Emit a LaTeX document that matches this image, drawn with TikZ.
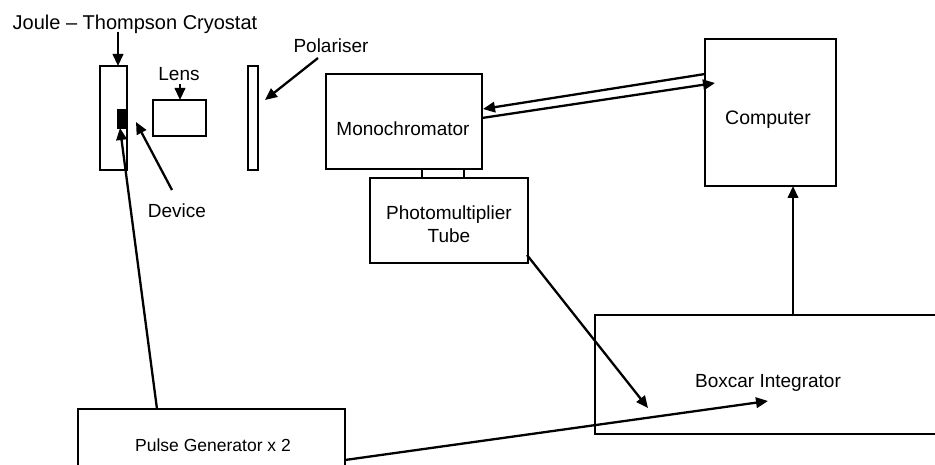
\documentclass[tikz,border=0pt]{standalone}
\usepackage{fontspec}
\setmainfont{Liberation Sans}
\usetikzlibrary{arrows.meta}
\begin{document}
\begin{tikzpicture}[x=1pt,y=-1pt,
  box/.style={draw, line width=1.3pt, inner sep=0pt, outer sep=0pt},
  lbl/.style={inner sep=0pt, outer sep=0pt, font=\fontsize{19}{22}\selectfont, anchor=base},
  arr/.style={line width=2.3pt, -{Triangle[length=12pt,width=10.5pt]}}]
\useasboundingbox (0,0) rectangle (935,465);
\clip (0,0) rectangle (935,465);
% boxes
\node[box, minimum width=27pt, minimum height=104pt] (cryo) at (113.5,118) {};
\node[box, fill=black, minimum width=9pt, minimum height=19pt] (device) at (122.5,119) {};
\node[box, minimum width=53pt, minimum height=36pt] (lens) at (179.5,118) {};
\node[box, minimum width=10pt, minimum height=104pt] (pol) at (253,118) {};
\node[box, minimum width=156pt, minimum height=95pt] (mono) at (404,121.5) {};
\node[box, minimum width=158pt, minimum height=85pt] (pmt) at (449,220.5) {};
\node[box, minimum width=131pt, minimum height=147pt] (comp) at (770.5,112.5) {};
\node[box, minimum width=360pt, minimum height=119pt] (boxcar) at (775,374.5) {};
\node[box, minimum width=267pt, minimum height=75pt] (pulse) at (211.5,446.5) {};
% labels
\node[lbl, font=\fontsize{20}{23}\selectfont] (cryoL) at (135,30) {Joule \textendash{} Thompson Cryostat};
\node[lbl] (lensL) at (179,81) {Lens};
\node[lbl] (devL) at (177,218) {Device};
\node[lbl] (polL) at (331,53) {Polariser};
\node[lbl] (monoL) at (403,136) {Monochromator};
\node[lbl] (pmtL1) at (449,220) {Photomultiplier};
\node[lbl] (pmtL2) at (449,243) {Tube};
\node[lbl, font=\fontsize{19.5}{22}\selectfont] (compL) at (768,125) {Computer};
\node[lbl] (boxL) at (768,387) {Boxcar Integrator};
\node[lbl, font=\fontsize{17.5}{20}\selectfont] (pulseL) at (213,451) {Pulse Generator x 2};
% coordinates for connector ends
\coordinate (cryoT) at (118,32);
\coordinate (cryoH) at (118,66);
\coordinate (lensT) at (180,84);
\coordinate (lensH) at (180,100);
\coordinate (polT) at (318,58);
\coordinate (polH) at (265,100);
\coordinate (devT) at (172,190);
\coordinate (devH) at (136,122);
\coordinate (pulseA) at (157,409);
\coordinate (devB) at (120,128);
\coordinate (m1a) at (422,169);
\coordinate (m1b) at (422,178);
\coordinate (m2a) at (464,169);
\coordinate (m2b) at (464,178);
\coordinate (compA) at (705,74);
\coordinate (monoA) at (483,109);
\coordinate (monoB) at (482,118);
\coordinate (compB) at (715,83);
\coordinate (pmtC) at (527,255);
\coordinate (boxH1) at (648,408);
\coordinate (pulseB) at (345,460);
\coordinate (boxH2) at (768,401);
\coordinate (boxT) at (793,315);
\coordinate (compH) at (793,186);
% connectors
\draw[arr] (cryoT) -- (cryoH);
\draw[arr] (lensT) -- (lensH);
\draw[arr] (polT) -- (polH);
\draw[arr] (devT) -- (devH);
\draw[arr] (pulseA) -- (devB);
\draw[line width=1.3pt] (m1a) -- (m1b) (m2a) -- (m2b);
\draw[arr] (compA) -- (monoA);
\draw[arr] (monoB) -- (compB);
\draw[arr] (pmtC) -- (boxH1);
\draw[arr] (pulseB) -- (boxH2);
\draw[arr] (boxT) -- (compH);
\end{tikzpicture}
\end{document}
